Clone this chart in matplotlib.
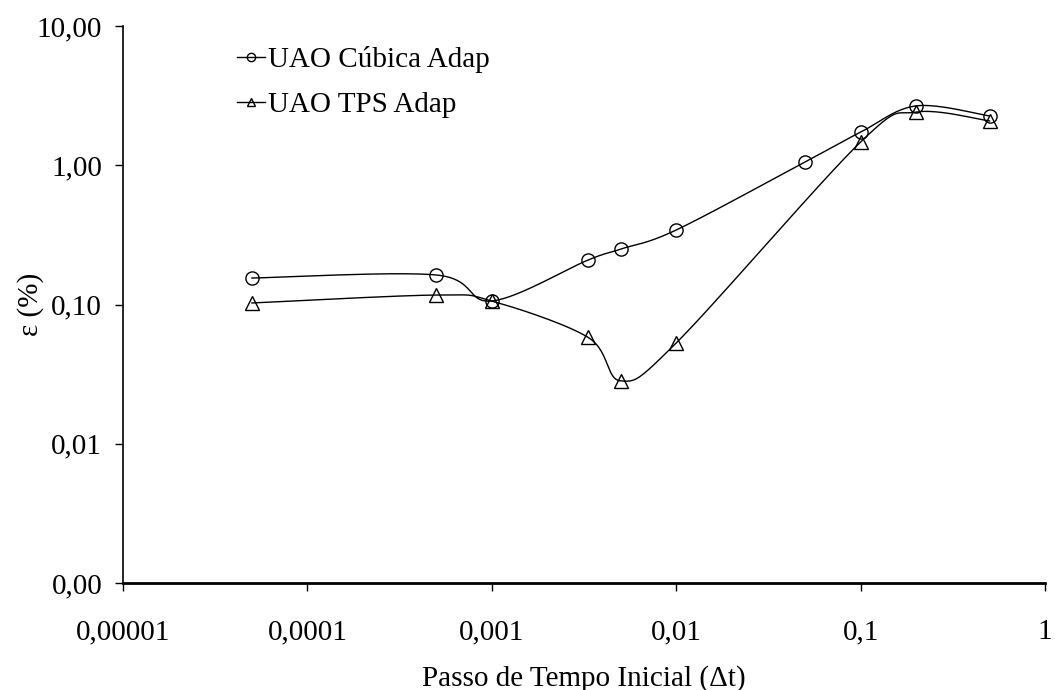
import numpy as np
import matplotlib
matplotlib.use("Agg")
import matplotlib.pyplot as plt
from matplotlib.ticker import FixedLocator, FixedFormatter, NullLocator

plt.rcParams['font.family'] = ['Liberation Serif', 'DejaVu Serif']

# data
dt_cubica = [5e-5, 5e-4, 1e-3, 1/300, 5e-3, 1e-2, 5e-2, 0.1, 0.2, 0.5]
err_cubica = [0.155, 0.163, 0.106, 0.209, 0.25, 0.343, 1.057, 1.73, 2.67, 2.26]
dt_tps = [5e-5, 5e-4, 1e-3, 1/300, 5e-3, 1e-2, 0.1, 0.2, 0.5]
err_tps = [0.1026, 0.117, 0.106, 0.058, 0.0283, 0.053, 1.47, 2.41, 2.08]

x_ticks = [1e-5, 1e-4, 1e-3, 1e-2, 1e-1, 1]
x_labels = ["0,00001", "0,0001", "0,001", "0,01", "0,1", "1"]
y_ticks = [1e-3, 1e-2, 1e-1, 1, 10]
y_labels = ["0,00", "0,01", "0,10", "1,00", "10,00"]


def smooth(xs, ys, n=40):
    # Excel-like smoothed line: cardinal bezier through the points in log space
    lx = np.log10(xs)
    ly = np.log10(ys)
    P = np.column_stack([lx, ly])
    out = [P[0]]
    t = np.linspace(0, 1, n)[1:]
    for i in range(len(P) - 1):
        p0 = P[i - 1] if i > 0 else P[i]
        p3 = P[i + 2] if i + 2 < len(P) else P[i + 1]
        c1 = P[i] + (P[i + 1] - p0) / 6
        c2 = P[i + 1] - (p3 - P[i]) / 6
        for tt in t:
            out.append((1 - tt) ** 3 * P[i] + 3 * (1 - tt) ** 2 * tt * c1
                       + 3 * (1 - tt) * tt ** 2 * c2 + tt ** 3 * P[i + 1])
    out = np.array(out)
    return 10 ** out[:, 0], 10 ** out[:, 1]


fig = plt.figure(figsize=(10.55, 6.9), dpi=100)
ax = fig.add_axes([0.1166, 0.155, 0.874, 0.8073])

for xs, ys, mk, lab in [(dt_cubica, err_cubica, 'o', 'UAO Cúbica Adap'),
                        (dt_tps, err_tps, '^', 'UAO TPS Adap')]:
    sx, sy = smooth(xs, ys)
    ax.plot(sx, sy, color='black', lw=1.0)
    ax.plot(xs, ys, linestyle='none', marker=mk, markersize=9.5,
            markerfacecolor='none', markeredgecolor='black', markeredgewidth=1.0)
    ax.plot([], [], color='black', lw=1.0, marker=mk, markersize=6,
            markerfacecolor='none', markeredgecolor='black', label=lab)

ax.set_xscale('log')
ax.set_yscale('log')
ax.set_xlim(1e-5, 1)
ax.set_ylim(1e-3, 10)
ax.xaxis.set_major_locator(FixedLocator(x_ticks))
ax.xaxis.set_major_formatter(FixedFormatter(x_labels))
ax.xaxis.set_minor_locator(NullLocator())
ax.yaxis.set_major_locator(FixedLocator(y_ticks))
ax.yaxis.set_major_formatter(FixedFormatter(y_labels))
ax.yaxis.set_minor_locator(NullLocator())

ax.spines['top'].set_visible(False)
ax.spines['right'].set_visible(False)
ax.spines['left'].set_linewidth(1.2)
ax.spines['bottom'].set_linewidth(2.0)
ax.tick_params(axis='both', direction='out', length=6, width=1.0,
               labelsize=21)
ax.tick_params(axis='x', pad=20)
ax.tick_params(axis='y', pad=9)

ax.set_xlabel('Passo de Tempo Inicial (Δt)', fontsize=21, labelpad=14)
ax.set_ylabel('ε (%)', fontsize=21, labelpad=-5)

ax.legend(loc='upper left', bbox_to_anchor=(0.1236, 0.964), frameon=False,
          fontsize=21, handlelength=0.95, handletextpad=0.1, labelspacing=0.65,
          borderpad=0, borderaxespad=0)

fig.savefig('out.png', dpi=100)
